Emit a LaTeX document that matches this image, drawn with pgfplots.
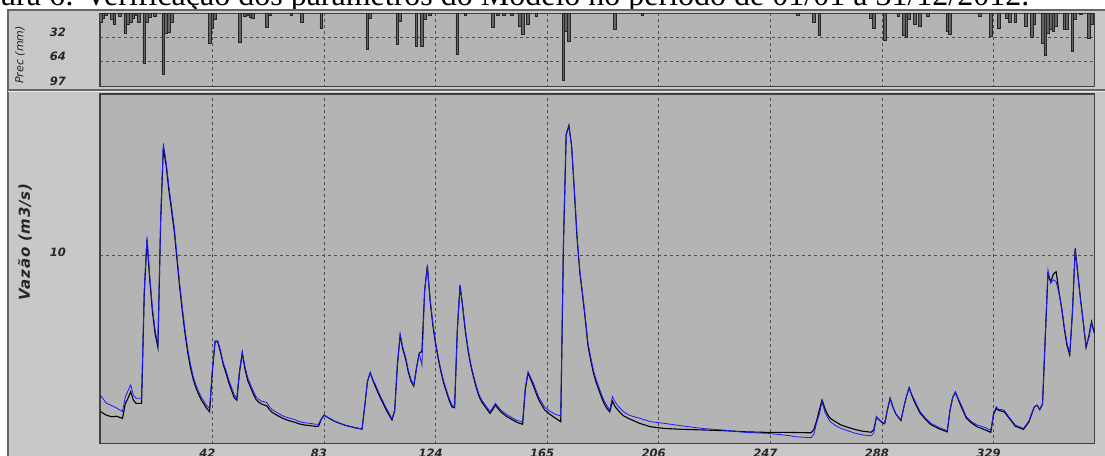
\documentclass[border=0pt]{standalone}
\usepackage{fontspec}
\usepackage{pgfplots}
\pgfplotsset{compat=1.18}
\newfontfamily\capfont{Liberation Serif}
\newfontfamily\lblfont{DejaVu Sans}
\newfontfamily\vazfont{DejaVu Sans}[LetterSpace=5]
\definecolor{outerbg}{RGB}{200,200,200}
\definecolor{plotbg}{RGB}{180,180,180}
\definecolor{framec}{RGB}{64,64,64}
\definecolor{gridc}{RGB}{80,80,80}
\definecolor{simblue}{RGB}{25,25,255}
\definecolor{barfill}{RGB}{100,100,100}

\pgfplotsset{
  common/.style={
    scale only axis, width=994.5pt, xmin=0.73, xmax=366.1,
    axis background/.style={fill=plotbg},
    axis line style={draw=framec, line width=1.4pt},
    major tick length=0pt,
    grid=major,
    major grid style={draw=gridc, dash pattern=on 3pt off 3pt, line width=0.8pt},
    xtick={42,83,124,165,206,247,288,329},
    /pgf/number format/assume math mode=true,
    tick label style={font=\lblfont\bfseries\itshape\fontsize{11.5}{13}\selectfont, text=black!85},
  }
}

\begin{document}
\begin{tikzpicture}
\useasboundingbox (0pt,0pt) rectangle (1105pt,455pt);
\clip (0pt,0pt) rectangle (1105pt,455pt);
\fill[white] (0pt,0pt) rectangle (1105pt,455pt);
\node[anchor=base west, inner sep=0pt, font=\capfont\fontsize{32}{36}\selectfont] at (0pt,449.3pt) {\llap{Fig}ura 6: Verificação dos parâmetros do Modelo no período de 01/01 a 31/12/2012.};
\filldraw[fill=outerbg, draw=black!60, line width=1.2pt] (8pt,445pt) rectangle (1120pt,-20pt);
\draw[black!60, line width=1.2pt] (8pt,365pt) -- (1110pt,365pt);
\draw[white!85!gray, line width=0.8pt] (8pt,363.8pt) -- (1110pt,363.8pt);

\node[rotate=90, font=\lblfont\itshape\fontsize{11}{13}\selectfont, text=black!85] at (20pt,400pt) {Prec (mm)};
\node[rotate=90, font=\vazfont\bfseries\itshape\fontsize{15}{17}\selectfont, text=black!85] at (25pt,213pt) {Vazão (m3/s)};

% Precipitation panel
\begin{axis}[common, at={(100pt,368.3pt)}, anchor=south west, height=73.2pt,
  ymin=0, ymax=97, y dir=reverse, ytick={32,64,97},
  xticklabels={},
  yticklabel style={xshift=-30.5pt, yshift=5.5pt},
  ybar, bar width=2.72pt]
\addplot[fill=barfill, draw=black!85, line width=0.7pt] coordinates {
(1,12) (2,6) (3,3) (5,8) (6,15) (8,4) (10,26) (11,15) (12,12) (13,6) (14,3) (15,12)
(17,66) (18,12) (19,5) (21,4) (24,80) (25,26) (26,25) (27,12)
(41,39) (42,20) (43,8) (52,38) (54,4) (55,3) (56,5) (57,6) (62,19) (63,3)
(71,3) (75,12) (82,20) (99,48) (100,6) (110,41) (111,10) (117,44) (119,44) (120,8) (122,2)
(132,54) (135,2) (145,18) (147,3) (149,3) (152,3) (155,17) (156,28) (158,15) (161,4)
(171,88) (172,24) (173,37) (190,21) (200,2) (257,2) (263,12) (265,29)
(284,6) (285,20) (289,35) (294,4) (296,29) (297,31) (298,8) (300,15) (302,17) (305,4)
(312,24) (313,27) (324,4) (328,30) (331,20) (334,6) (335,12) (337,12) (341,17) (343,32) (344,15)
(347,40) (348,56) (349,26) (350,21) (351,24) (352,17) (355,21) (356,21) (358,50) (359,8)
(361,1) (364,33) (365,15)
};
\end{axis}

% Flow panel
\begin{axis}[common, at={(100pt,11.5pt)}, anchor=south west, height=349.5pt,
  ymin=0, ymax=18.57, ytick={10},
  yticklabel style={xshift=-30.5pt, yshift=3pt},
  xticklabel style={xshift=-5pt, yshift=-1.5pt}]
% observed (black)
\addplot[black, line width=1.1pt] coordinates {
(1,1.69) (3,1.51) (5,1.42) (7,1.45) (8,1.38) (9,1.34) (10,2.10) (11,2.40) (12,2.75) (13,2.30) (14,2.13) (16,2.13)
(17,8.0) (18,10.8) (19,8.7) (20,7.0) (21,5.8) (22,5.1) (23,11.7) (24,15.7) (25,14.8) (26,13.5) (27,12.4) (28,11.3)
(29,9.8) (30,8.3) (31,7.0) (32,5.8) (33,4.8) (34,4.0) (35,3.4) (36,2.95) (37,2.6) (38,2.3) (39,2.08) (40,1.85) (41,1.69)
(42,3.8) (43,5.4) (44,5.4) (45,4.85) (46,4.2) (47,3.75) (48,3.25) (49,2.85) (50,2.45) (51,2.3) (52,3.8) (53,4.8)
(54,3.95) (55,3.35) (56,3.0) (57,2.65) (58,2.35) (59,2.2) (60,2.1) (61,2.05) (62,2.0) (63,1.8) (64,1.65) (66,1.48)
(68,1.33) (70,1.22) (72,1.14) (74,1.04) (76,0.98) (78,0.95) (80,0.91) (81,0.92) (82,1.28) (83,1.51) (84,1.42) (85,1.33)
(87,1.17) (89,1.06) (91,0.96) (94,0.85) (97,0.76) (98,2.0) (99,3.3) (100,3.76) (101,3.35) (102,3.0) (103,2.65)
(104,2.35) (105,2.05) (106,1.75) (107,1.5) (108,1.25) (109,1.75) (110,4.2) (111,5.75) (112,5.0) (113,4.5) (114,3.8)
(115,3.3) (116,3.05) (117,4.0) (118,4.79) (119,4.9) (120,8.1) (121,9.45) (122,7.6) (123,6.3) (124,5.3) (125,4.5)
(126,3.8) (127,3.2) (128,2.75) (129,2.3) (130,1.95) (131,1.9) (132,6.0) (133,8.4) (134,7.2) (135,5.9) (136,4.9)
(137,4.1) (138,3.5) (139,2.95) (140,2.5) (141,2.2) (142,2.0) (143,1.8) (144,1.6) (145,1.8) (146,2.05) (147,1.85)
(148,1.68) (150,1.45) (152,1.28) (154,1.12) (156,1.02) (157,2.9) (158,3.75) (159,3.4) (160,3.05) (161,2.65) (162,2.3)
(163,2.05) (164,1.8) (166,1.55) (168,1.35) (170,1.16) (171,10.6) (172,16.4) (173,16.9) (174,15.8) (175,13.4)
(176,10.9) (177,9.1) (178,7.9) (179,6.6) (180,5.2) (181,4.45) (182,3.75) (183,3.25) (184,2.85) (185,2.45) (186,2.1)
(187,1.85) (188,1.68) (189,2.25) (190,1.95) (191,1.78) (192,1.62) (193,1.48) (195,1.32) (197,1.2) (199,1.07)
(203,0.89) (208,0.80) (215,0.75) (222,0.72) (230,0.68) (238,0.62) (246,0.59) (254,0.59) (262,0.57) (263,0.75)
(264,1.20) (265,1.78) (266,2.31) (267,1.87) (268,1.55) (269,1.34) (271,1.15) (273,0.98) (275,0.88) (278,0.75)
(281,0.65) (284,0.60) (285,0.72) (286,1.42) (287,1.25) (288,1.12) (289,1.05) (290,1.78) (291,2.40) (292,1.95)
(293,1.60) (294,1.40) (295,1.22) (296,1.90) (297,2.50) (298,2.96) (299,2.55) (300,2.20) (302,1.62) (304,1.28)
(306,1.00) (309,0.78) (312,0.62) (313,1.75) (314,2.45) (315,2.72) (316,2.35) (317,2.00) (319,1.35) (321,1.08)
(323,0.89) (326,0.72) (328,0.59) (329,1.55) (330,1.85) (331,1.75) (332,1.72) (333,1.68) (335,1.30) (337,0.92)
(340,0.75) (342,1.15) (343,1.55) (344,1.95) (345,2.04) (346,1.80) (347,2.10) (348,5.60) (349,9.00) (350,8.60)
(351,9.00) (352,9.13) (353,8.10) (354,7.20) (355,6.10) (356,5.20) (357,4.70) (358,7.00) (359,10.37) (360,9.00)
(361,7.60) (362,6.40) (363,5.10) (364,5.70) (365,6.47) (366,5.90)
};
% simulated (blue)
\addplot[simblue, line width=0.8pt] coordinates {
(1,2.55) (3,2.15) (6,1.95) (9,1.70) (10,2.45) (11,2.80) (12,3.11) (13,2.57) (14,2.40) (16,2.40)
(17,8.2) (18,11.0) (19,8.9) (20,7.2) (21,6.0) (22,5.23) (23,11.9) (24,15.95) (25,15.0) (26,13.7) (27,12.6) (28,11.5)
(29,10.0) (30,8.5) (31,7.2) (32,6.0) (33,5.0) (34,4.2) (35,3.55) (36,3.1) (37,2.75) (38,2.45) (39,2.22) (40,2.0) (41,1.87)
(42,3.9) (43,5.46) (44,5.46) (45,4.95) (46,4.3) (47,3.9) (48,3.4) (49,3.0) (50,2.6) (51,2.4) (52,3.9) (53,4.88)
(54,4.08) (55,3.5) (56,3.15) (57,2.8) (58,2.5) (59,2.35) (60,2.25) (61,2.22) (62,2.17) (63,1.95) (64,1.8) (66,1.62)
(68,1.46) (70,1.36) (72,1.28) (74,1.16) (76,1.10) (78,1.07) (80,1.02) (81,1.02) (82,1.30) (83,1.51) (84,1.42) (85,1.34)
(87,1.18) (89,1.07) (91,0.97) (94,0.86) (97,0.77) (98,2.0) (99,3.3) (100,3.76) (101,3.4) (102,3.1) (103,2.75)
(104,2.45) (105,2.15) (106,1.85) (107,1.6) (108,1.3) (109,1.8) (110,4.2) (111,5.8) (112,5.1) (113,4.6) (114,3.9)
(115,3.4) (116,3.1) (117,4.0) (118,4.79) (119,4.17) (120,8.15) (121,9.39) (122,7.7) (123,6.4) (124,5.4) (125,4.6)
(126,3.9) (127,3.3) (128,2.85) (129,2.4) (130,2.05) (131,1.95) (132,6.0) (133,8.42) (134,7.3) (135,6.0) (136,5.0)
(137,4.2) (138,3.6) (139,3.05) (140,2.6) (141,2.3) (142,2.1) (143,1.9) (144,1.69) (145,1.9) (146,2.13) (147,1.95)
(148,1.78) (150,1.55) (152,1.38) (154,1.22) (156,1.16) (157,3.0) (158,3.81) (159,3.5) (160,3.19) (161,2.8) (162,2.45)
(163,2.2) (164,1.95) (166,1.72) (168,1.55) (170,1.46) (171,10.8) (172,16.5) (173,16.83) (174,15.8) (175,13.5)
(176,11.0) (177,9.2) (178,8.0) (179,6.74) (180,5.32) (181,4.6) (182,3.9) (183,3.4) (184,3.0) (185,2.6) (186,2.25)
(187,2.0) (188,1.78) (189,2.49) (190,2.2) (191,2.0) (192,1.85) (193,1.69) (195,1.51) (197,1.42) (199,1.34)
(203,1.16) (208,1.07) (215,0.93) (222,0.80) (230,0.71) (238,0.59) (246,0.54) (254,0.42) (256,0.36) (262,0.31)
(263,0.50) (264,1.10) (265,1.55) (266,2.22) (267,1.69) (268,1.40) (269,1.16) (271,0.95) (273,0.80) (275,0.70)
(278,0.55) (281,0.45) (284,0.41) (285,0.55) (286,1.42) (287,1.25) (288,1.15) (289,1.07) (290,1.78) (291,2.40)
(292,1.95) (293,1.60) (294,1.42) (295,1.25) (296,1.90) (297,2.50) (298,2.96) (299,2.60) (300,2.30) (302,1.70)
(304,1.35) (306,1.07) (309,0.85) (312,0.68) (313,1.78) (314,2.45) (315,2.75) (316,2.40) (317,2.10) (319,1.42)
(321,1.15) (323,0.98) (326,0.85) (328,0.70) (329,1.60) (330,1.95) (331,1.80) (332,1.80) (333,1.75) (335,1.34)
(337,0.98) (340,0.80) (342,1.20) (343,1.60) (344,1.95) (345,2.04) (346,1.80) (347,2.10) (348,5.67) (349,9.22)
(350,8.51) (351,8.70) (352,8.60) (353,8.00) (354,7.27) (355,6.20) (356,5.32) (357,4.79) (358,7.00) (359,10.28)
(360,8.90) (361,7.60) (362,6.40) (363,5.20) (364,5.60) (365,6.38) (366,5.85)
};
\end{axis}
\end{tikzpicture}
\end{document}
